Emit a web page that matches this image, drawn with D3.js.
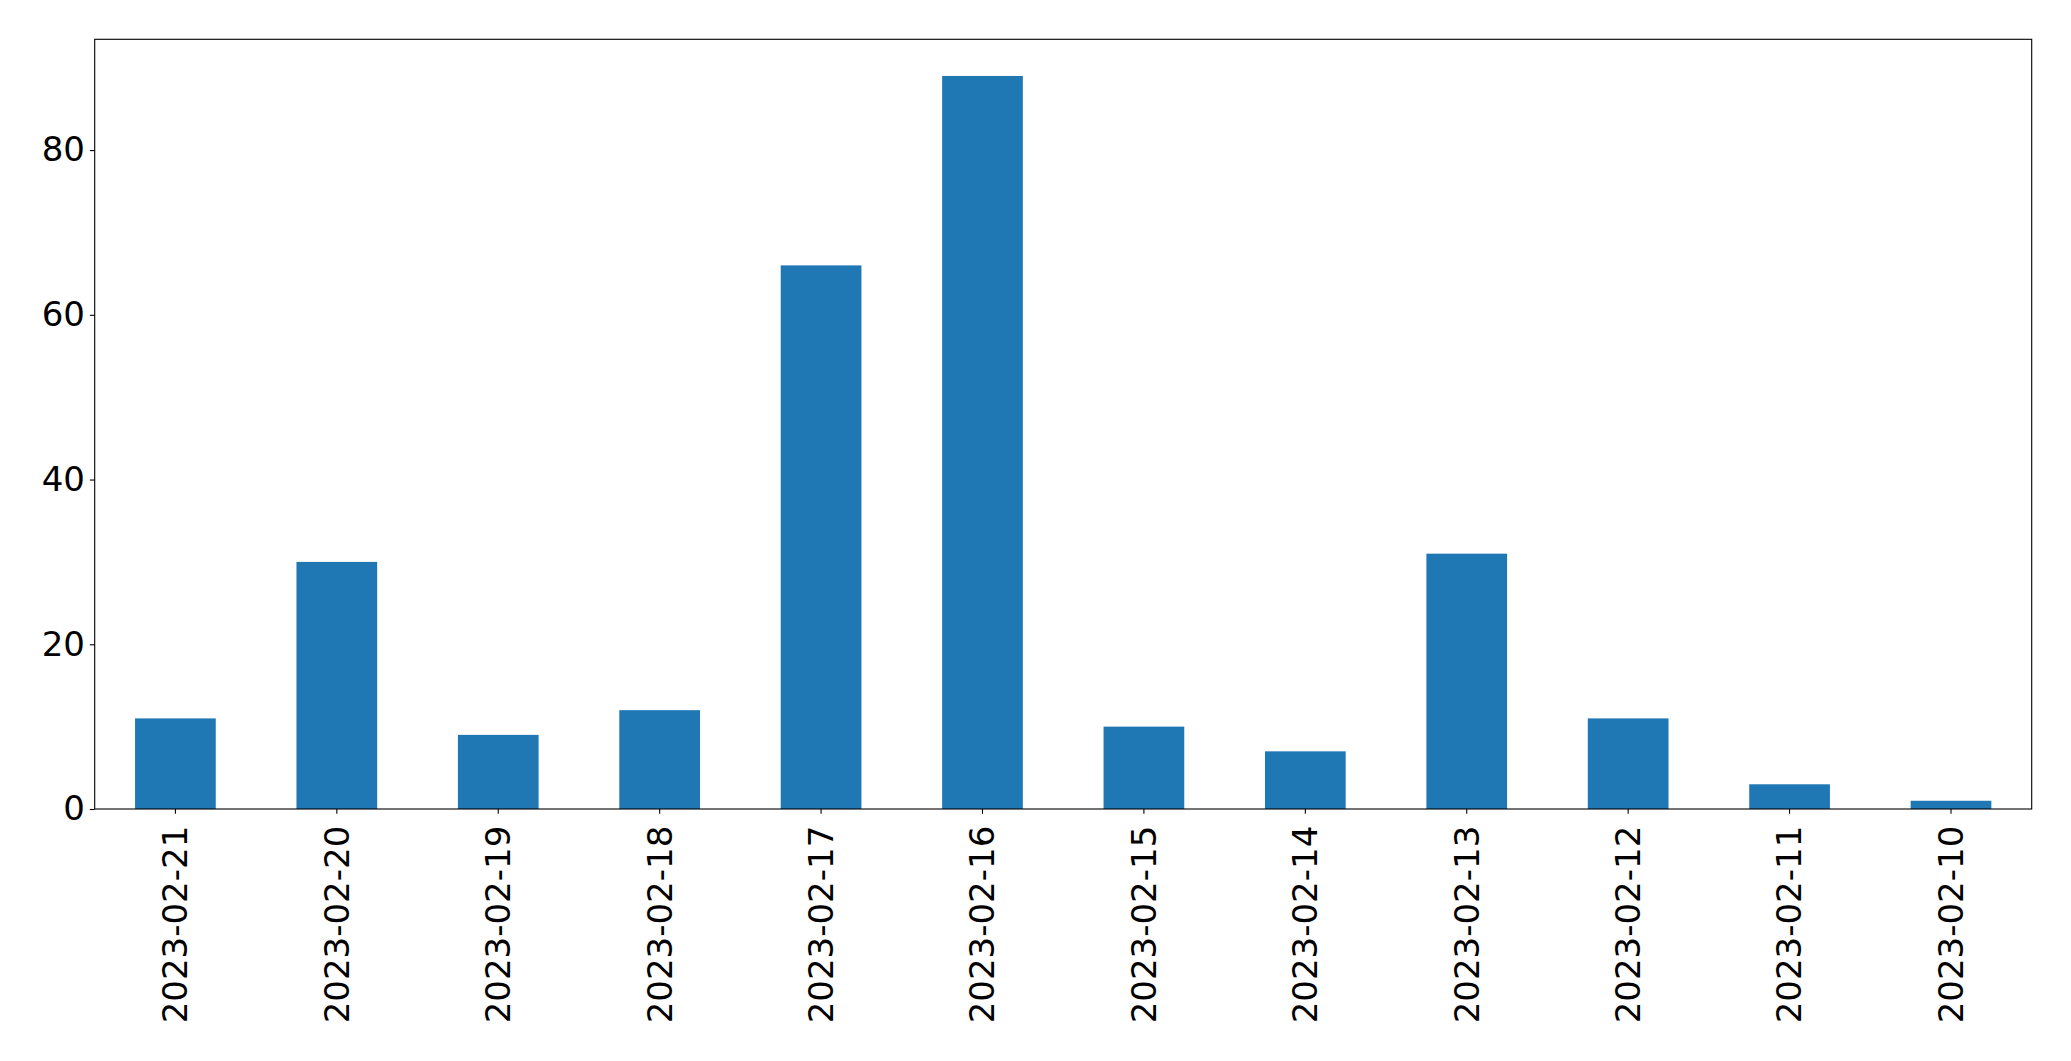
<!DOCTYPE html>
<html>
<head>
<meta charset="utf-8">
<script src="https://cdn.jsdelivr.net/npm/d3@7"></script>
<style>
  html, body { margin: 0; padding: 0; background: #fff; }
  svg { display: block; }
  text { font-family: "DejaVu Sans", sans-serif; fill: #000; }
</style>
</head>
<body>
<svg id="chart" width="2071" height="1061"></svg>
<script>
const categories = ["2023-02-21","2023-02-20","2023-02-19","2023-02-18","2023-02-17","2023-02-16","2023-02-15","2023-02-14","2023-02-13","2023-02-12","2023-02-11","2023-02-10"];
const values = [11, 30, 9, 12, 66, 89, 10, 7, 31, 11, 3, 1];
const yTicks = [0, 20, 40, 60, 80];

(function () {
const mLeft = 94.7, mRight = 2031.7, mTop = 39.3, mBottom = 809;
const fontSize = 34;
const tickLen = 4.86, tickPad = 4.86;

const svg = d3.select("#chart");

const x = d3.scaleBand().domain(categories).range([mLeft, mRight]).paddingInner(0.5).paddingOuter(0.25);
const y = d3.scaleLinear().domain([0, d3.max(values) * 1.05]).range([mBottom, mTop]);

// bars
svg.append("g").selectAll("rect").data(values).join("rect")
  .attr("x", (d, i) => x(categories[i]))
  .attr("width", x.bandwidth())
  .attr("y", d => y(d))
  .attr("height", d => y(0) - y(d))
  .attr("fill", "#1f77b4");

// y axis
const yAxis = d3.axisLeft(y).tickValues(yTicks).tickSize(tickLen).tickPadding(tickPad).tickFormat(d3.format("d"));
const gy = svg.append("g").attr("transform", `translate(${mLeft},0)`).call(yAxis);
gy.select(".domain").remove();
gy.selectAll(".tick line").attr("stroke", "#000").attr("stroke-width", 1.1);
gy.selectAll(".tick text").attr("font-size", fontSize).attr("font-family", "DejaVu Sans").attr("fill", "#000");

// x axis
const xAxis = d3.axisBottom(x).tickSize(tickLen).tickPadding(tickPad);
const gx = svg.append("g").attr("transform", `translate(0,${mBottom})`).call(xAxis);
gx.select(".domain").remove();
gx.selectAll(".tick line").attr("stroke", "#000").attr("stroke-width", 1.1);
gx.selectAll(".tick text")
  .attr("font-size", fontSize).attr("font-family", "DejaVu Sans").attr("fill", "#000")
  .attr("text-anchor", "end")
  .attr("transform", "rotate(-90)")
  .attr("x", -(tickLen + tickPad + 7))
  .attr("y", 0)
  .attr("dy", "0.35em");

// frame
svg.append("rect")
  .attr("x", mLeft).attr("y", mTop)
  .attr("width", mRight - mLeft).attr("height", mBottom - mTop)
  .attr("fill", "none").attr("stroke", "#000").attr("stroke-width", 1.1);
})();
</script>
</body>
</html>
